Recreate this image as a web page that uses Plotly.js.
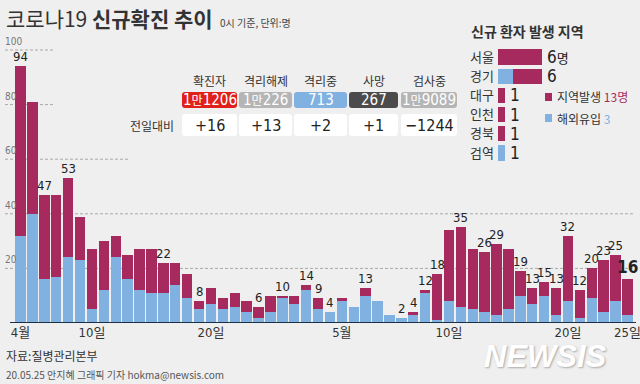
<!DOCTYPE html>
<html><head><meta charset="utf-8">
<script src="https://cdn.plot.ly/plotly-3.0.1.min.js"></script>
<style>html,body{margin:0;padding:0;background:#efefef;}#chart{width:640px;height:384px;}</style>
</head><body><div id="chart"></div>
<script>
// ---- data ----
const days = ['4/4','4/5','4/6','4/7','4/8','4/9','4/10','4/11','4/12','4/13','4/14','4/15','4/16','4/17','4/18','4/19','4/20','4/21','4/22','4/23','4/24','4/25','4/26','4/27','4/28','4/29','4/30',
  '5/1','5/2','5/3','5/4','5/5','5/6','5/7','5/8','5/9','5/10','5/11','5/12','5/13','5/14','5/15','5/16','5/17','5/18','5/19','5/20','5/21','5/22','5/23','5/24','5/25'];
const imported = [32,40,16,17,24,23,5,12,24,16,12,11,11,14,9,5,7,5,6,4,2,4,9,7,12,5,4,
  8,6,10,8,3,2,3,11,1,8,6,5,4,3,5,10,7,10,3,8,2,9,4,8,3];
const local = [62,41,31,30,29,16,22,18,8,9,15,16,11,8,9,3,6,4,5,4,4,6,1,3,2,4,0,
  1,0,3,0,0,0,1,1,17,26,29,22,22,26,22,9,6,5,10,24,10,11,19,17,13];
const labelled = [0,2,4,12,15,20,22,24,25,26,29,32,33,34,35,37,39,40,42,43,44,45,46,47,48,49,50,51];
const tickVals = ['4/4','4/10','4/20','5/1','5/10','5/20','5/25'];
const tickText = ['4월','10일','20일','5월','10일','20일','25일'];
const yTicks = [20,40,60,80,100];

const regions = ['서울','경기','대구','인천','경북','검역'];
const regLocal = [6,4,1,1,1,0];
const regImported = [0,2,0,0,0,1];

const tableHeads = ['확진자','격리해제','격리중','사망','검사중'];
const tableVals = ['1만1206','1만226','713','267','1만9089'];
const tableDiff = ['+16','+13','+2','+1','−1244'];

// ---- style ----
const MAG = '#a62a5d', BLUE = '#80b1e1', BG = '#efefef';
const FONT = "'Liberation Sans Narrow','DejaVu Sans Condensed','Liberation Sans','Noto Sans CJK KR',sans-serif";
const KFONT = "'Noto Sans CJK KR',sans-serif";
const L=14, R=6, T=10, B=61, W=640, H=384;
const PW = W-L-R, PH = H-T-B;
const px = x => (x-L)/PW, py = y => (H-B-y)/PH;
function rrect(x0,y0,x1,y1,r){
  const X=px, Y=py;
  return `M${X(x0+r)},${Y(y0)} L${X(x1-r)},${Y(y0)} Q${X(x1)},${Y(y0)} ${X(x1)},${Y(y0+r)} L${X(x1)},${Y(y1-r)} Q${X(x1)},${Y(y1)} ${X(x1-r)},${Y(y1)} L${X(x0+r)},${Y(y1)} Q${X(x0)},${Y(y1)} ${X(x0)},${Y(y1-r)} L${X(x0)},${Y(y0+r)} Q${X(x0)},${Y(y0)} ${X(x0+r)},${Y(y0)} Z`;
}

const totals = days.map((d,i)=>imported[i]+local[i]);

const traces = [
  {type:'bar', x:days, y:imported, marker:{color:BLUE}, xaxis:'x', yaxis:'y', hoverinfo:'skip'},
  {type:'bar', x:days, y:local, marker:{color:MAG}, xaxis:'x', yaxis:'y', hoverinfo:'skip'},
  {type:'bar', orientation:'h', y:regions, x:regImported, marker:{color:BLUE}, xaxis:'x2', yaxis:'y2', width:0.8, hoverinfo:'skip'},
  {type:'bar', orientation:'h', y:regions, x:regLocal, marker:{color:MAG}, xaxis:'x2', yaxis:'y2', width:0.8, hoverinfo:'skip'}
];

const shapes = [];
const ann = [];
function A(o){ ann.push(Object.assign({xanchor:'center', yanchor:'middle', showarrow:false, xref:'paper', yref:'paper'}, o)); }

// gridlines
const gridEnd = {20:1, 40:1, 60:px(130), 80:px(53), 100:px(53)};
yTicks.forEach(v=>{
  shapes.push({type:'line', layer:'below', xref:'paper', yref:'y', x0:px(5), x1:gridEnd[v], y0:v, y1:v,
    line:{color:'#a8a8a8', width:1, dash:'3px,2px'}});
  A({yref:'y', x:px(3), y:v, xanchor:'left', yanchor:'bottom', yshift:1,
    text:String(v), font:{family:FONT, size:10, color:'#777'}});
});
// axis line
shapes.push({type:'line', xref:'paper', yref:'y', x0:px(10), x1:px(636), y0:0, y1:0, line:{color:'#1e2f48', width:2}});

// bar labels
labelled.forEach(i=>{
  const last = i===days.length-1;
  A({xref:'x', yref:'y', x:days[i], y:totals[i], yanchor:'bottom',
    text: last? `<b>${totals[i]}</b>` : String(totals[i]),
    font:{family:FONT, size: last?17:13, color:'#222'}});
});

// title
A({x:px(4), y:py(18), xanchor:'left', text:'코로나19 <b>신규확진 추이</b>', font:{family:KFONT, size:21, color:'#333'}});
A({x:px(218), y:py(22), xanchor:'left', text:'0시 기준, 단위:명', font:{family:KFONT, size:10, color:'#444'}});

// table
const boxX = [[182,237],[239,292],[294,347],[349,398],[401,457]];
const boxC = ['#e0201b','#b5b5b5','#80b1e1','#4b4b4b','#b5b5b5'];
const fmtVal = s => s.replace('만', '<span style="font-size:12px">만</span>');
boxX.forEach((b,i)=>{
  const cx=(b[0]+b[1])/2;
  A({x:px(cx), y:py(80), text:tableHeads[i], font:{family:KFONT, size:12, color:'#333'}});
  shapes.push({type:'path', xref:'paper', yref:'paper', path:rrect(b[0],92,b[1],108,3), fillcolor:boxC[i], line:{width:0}});
  A({x:px(cx), y:py(100), text:fmtVal(tableVals[i]), font:{family:FONT, size:15, color:'#fff'}});
  shapes.push({type:'path', xref:'paper', yref:'paper', path:rrect(b[0],114,b[1],136,3), fillcolor:'#ffffff', line:{width:0}});
  A({x:px(cx), y:py(125), text:tableDiff[i], font:{family:FONT, size:16, color:'#222'}});
});
A({x:px(152), y:py(125), text:'전일대비', font:{family:KFONT, size:12, color:'#333'}});

// right panel
A({x:px(469), y:py(31), xanchor:'left', text:'<b>신규 환자 발생 지역</b>', font:{family:KFONT, size:14, color:'#333'}});
regions.forEach((r,i)=>{
  const tot = regLocal[i]+regImported[i];
  A({xref:'x2', yref:'y2', x:tot, y:r, xanchor:'left', xshift:3,
    text: i===0 ? `${tot}<span style="font-size:13px">명</span>` : String(tot),
    font:{family:FONT, size:17, color:'#222'}});
});
const sumLocal = regLocal.reduce((a,b)=>a+b,0), sumImp = regImported.reduce((a,b)=>a+b,0);
shapes.push({type:'rect', xref:'paper', yref:'paper', x0:px(545), x1:px(552), y0:py(93), y1:py(101), fillcolor:MAG, line:{width:0}});
shapes.push({type:'rect', xref:'paper', yref:'paper', x0:px(545), x1:px(552), y0:py(114), y1:py(122), fillcolor:BLUE, line:{width:0}});
A({x:px(555), y:py(97), xanchor:'left', text:`지역발생 <span style="color:${MAG}">${sumLocal}명</span>`, font:{family:KFONT, size:12, color:'#333'}});
A({x:px(555), y:py(118), xanchor:'left', text:`해외유입 <span style="color:${BLUE}">${sumImp}</span>`, font:{family:KFONT, size:12, color:'#333'}});

// footer
A({x:px(4), y:py(355), xanchor:'left', text:'자료:질병관리본부', font:{family:KFONT, size:12, color:'#333'}});
A({x:px(4), y:py(374), xanchor:'left', text:'20.05.25 안지혜 그래픽 기자 hokma@newsis.com', font:{family:KFONT, size:10, color:'#555'}});
A({x:px(545), y:py(356), text:'<b><i>NEWSIS</i></b>', font:{family:"'Liberation Sans',sans-serif", size:31, color:'#ffffff', shadow:'1px 1px 2px #a8a8a8'}});

const layout = {
  width:W, height:H, margin:{l:L, r:R, t:T, b:B},
  paper_bgcolor:BG, plot_bgcolor:BG, barmode:'stack', bargap:0.12, showlegend:false,
  font:{family:FONT},
  xaxis:{type:'category', range:[-0.55, days.length-0.45], showgrid:false, zeroline:false, showline:false,
    tickmode:'array', tickvals:tickVals, ticktext:tickText, ticks:'', tickfont:{family:FONT, size:13, color:'#333'}, fixedrange:true},
  yaxis:{range:[0, 100*PH/273], showgrid:false, zeroline:false, showticklabels:false, fixedrange:true},
  xaxis2:{domain:[px(498), px(571)], range:[0,10], anchor:'y2', visible:false},
  yaxis2:{domain:[py(165), py(45)], anchor:'x2', autorange:'reversed', showgrid:false, zeroline:false, showline:false,
    ticks:'', ticklabelstandoff:3, tickfont:{family:KFONT, size:13, color:'#333'}},
  shapes:shapes, annotations:ann
};
Plotly.newPlot('chart', traces, layout, {staticPlot:true, displayModeBar:false});
</script></body></html>
